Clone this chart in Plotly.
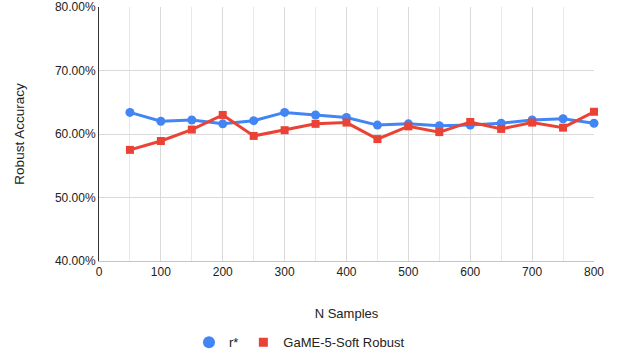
import plotly.graph_objects as go

n_samples = [50, 100, 150, 200, 250, 300, 350, 400, 450, 500, 550, 600, 650, 700, 750, 800]
r_star = [63.4, 62.0, 62.2, 61.6, 62.1, 63.4, 63.0, 62.6, 61.4, 61.6, 61.3, 61.4, 61.7, 62.2, 62.4, 61.7]
game_soft = [57.5, 58.9, 60.7, 63.0, 59.7, 60.6, 61.6, 61.8, 59.2, 61.2, 60.3, 61.9, 60.8, 61.8, 61.0, 63.5]

BLUE = "#4285F4"
RED = "#EA4335"
FONT = "Liberation Sans, Arial, sans-serif"

fig = go.Figure()
fig.add_trace(go.Scatter(x=n_samples, y=[v / 100 for v in r_star], mode="lines+markers",
                         line=dict(color=BLUE, width=3), marker=dict(color=BLUE, size=9, symbol="circle"),
                         showlegend=False, name="r*", cliponaxis=False))
fig.add_trace(go.Scatter(x=n_samples, y=[v / 100 for v in game_soft], mode="lines+markers",
                         line=dict(color=RED, width=3), marker=dict(color=RED, size=8, symbol="square"),
                         showlegend=False, name="GaME-5-Soft Robust", cliponaxis=False))
fig.add_trace(go.Scatter(x=[None], y=[None], mode="markers", name="r*",
                         marker=dict(color=BLUE, size=12, symbol="circle")))
fig.add_trace(go.Scatter(x=[None], y=[None], mode="markers", name="GaME-5-Soft Robust",
                         marker=dict(color=RED, size=9, symbol="square")))

fig.update_layout(
    width=618, height=355,
    margin=dict(l=99, r=24, t=7, b=94, autoexpand=False),
    paper_bgcolor="white", plot_bgcolor="white",
    font=dict(family=FONT, size=12, color="#222"),
    legend=dict(orientation="h", x=0.405, xanchor="center", y=-0.32, yanchor="middle",
                font=dict(size=13, color="#222"), itemsizing="trace", itemwidth=30,
                tracegroupgap=0),
)
fig.update_xaxes(
    range=[0, 800], tickvals=[0, 100, 200, 300, 400, 500, 600, 700, 800],
    showgrid=True, gridcolor="#d9d9d9", gridwidth=1,
    minor=dict(dtick=50, tick0=0, showgrid=True, gridcolor="#e8e8e8", gridwidth=1),
    showline=True, linecolor="#c4c4c4", linewidth=1, zeroline=False, automargin=False,
    ticks="", tickfont=dict(size=12, color="#222"),
    title=dict(text="N Samples", font=dict(size=13, color="#222"), standoff=30),
)
fig.update_yaxes(
    range=[0.4, 0.8], tickvals=[0.4, 0.5, 0.6, 0.7, 0.8], tickformat=".2%",
    showgrid=True, gridcolor="#d9d9d9", gridwidth=1,
    showline=True, linecolor="#333", linewidth=1, zeroline=False, automargin=False,
    ticks="", tickfont=dict(size=12, color="#222"),
    title=dict(text="Robust Accuracy", font=dict(size=13.5, color="#222"), standoff=27),
)

fig.write_html("out.html", config={"displayModeBar": False},
               post_script="document.body.style.margin='0';")
